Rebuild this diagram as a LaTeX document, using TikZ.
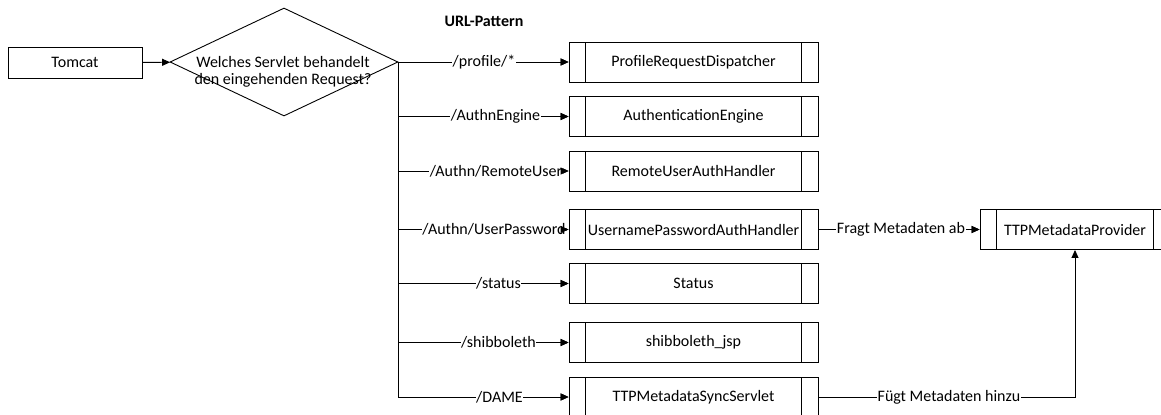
\documentclass[tikz,border=0pt]{standalone}
\usepackage{fontspec}
\setmainfont{Carlito}
\usetikzlibrary{shapes.geometric,arrows.meta}

\tikzset{
  base/.style={font=\fontsize{16bp}{17bp}\selectfont},
  arr/.style={line width=0.9bp, -{Triangle[length=8bp,width=7bp]}},
  plainbox/.style={base, draw, line width=0.9bp, minimum width=134bp, minimum height=31bp, inner sep=0pt},
  decision/.style={draw, line width=0.9bp, diamond, minimum width=228bp, minimum height=108bp, inner sep=0pt},
  subproc/.style={base, draw, line width=0.9bp, minimum width=249bp, minimum height=40bp, inner sep=0pt,
    path picture={
      \draw[line width=0.9bp] ([xshift=16.5bp]path picture bounding box.north west) -- ([xshift=16.5bp]path picture bounding box.south west);
      \draw[line width=0.9bp] ([xshift=-16.5bp]path picture bounding box.north east) -- ([xshift=-16.5bp]path picture bounding box.south east);
    }},
  lbl/.style={base, fill=white, inner xsep=0.5bp, inner ysep=1bp},
}

\begin{document}
\begin{tikzpicture}[x=1bp, y=-1bp]
\useasboundingbox (0,0) rectangle (1161,414);
\clip (0,0) rectangle (1161,414);

% entry point and decision
\node[plainbox] (tomcat) at (75,62.5) {Tomcat};
\node[decision] (dia) at (284,62) {};
\node[base, align=center, inner sep=0pt] (qtext) at (283,71.5) {Welches Servlet behandelt\\den eingehenden Request?};
\node[base, font=\fontsize{16bp}{17bp}\selectfont\bfseries] (urlhead) at (484,21) {URL-Pattern};

% servlets
\node[subproc] (p1) at (693.5,62) {ProfileRequestDispatcher};
\node[subproc] (p2) at (693.5,116.5) {AuthenticationEngine};
\node[subproc] (p3) at (693.5,171) {RemoteUserAuthHandler};
\node[subproc] (p4) at (693.5,229.5) {UsernamePasswordAuthHandler};
\node[subproc] (p5) at (693.5,283.5) {Status};
\node[subproc] (p6) at (693.5,342.5) {shibboleth\_jsp};
\node[subproc] (p7) at (693.5,397) {TTPMetadataSyncServlet};
\node[subproc, minimum width=190bp] (ttp) at (1075,229.5) {TTPMetadataProvider};

% connectors
\draw[arr] (tomcat) -- (dia);
\draw[arr] (dia.east) -- (p1.west);
\foreach \n in {p2,p3,p4,p5,p6,p7}
  \draw[arr] (dia.east) |- (\n.west);
\draw[arr] (p4.east) -- (ttp.west);
\draw[arr] (p7.east) -| (ttp.south);

% connector labels
\node[lbl] (l1) at (484,62) {/profile/*};
\node[lbl] (l2) at (495.5,116.5) {/AuthnEngine};
\node[lbl] (l3) at (496,171) {/Authn/RemoteUser};
\node[lbl] (l4) at (494,229.5) {/Authn/UserPassword};
\node[lbl] (l5) at (498.5,283.5) {/status};
\node[lbl] (l6) at (498.5,342.5) {/shibboleth};
\node[lbl] (l7) at (499.5,397) {/DAME};
\node[lbl] (l8) at (901,229.5) {Fragt Metadaten ab};
\node[lbl] (l9) at (949,397) {Fügt Metadaten hinzu};

% arrow tips kept in front of the labels
\foreach \n in {p1,p2,p3,p4,p5,p6,p7,ttp}
  \draw[arr] ([xshift=-7bp]\n.west) -- (\n.west);
\end{tikzpicture}
\end{document}
